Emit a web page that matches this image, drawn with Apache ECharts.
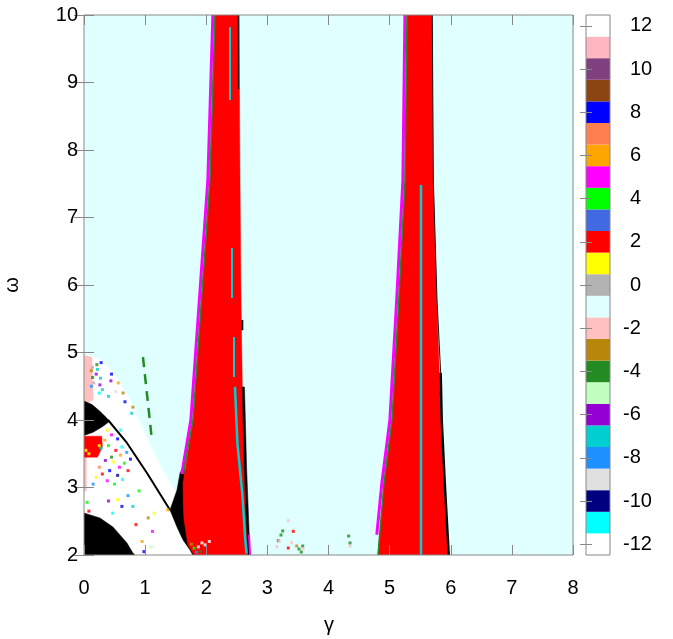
<!DOCTYPE html>
<html><head><meta charset="utf-8">
<script src="https://cdn.jsdelivr.net/npm/echarts@6/dist/echarts.min.js"></script>
<style>html,body{margin:0;padding:0;background:#fff}#c{width:673px;height:639px}</style>
</head><body><div id="c"></div><script>
// ---- axes / colorbar ----
const gammaTicks = [0,1,2,3,4,5,6,7,8];
const omegaTicks = [2,3,4,5,6,7,8,9,10];
const cbLevels = [-12,-11,-10,-9,-8,-7,-6,-5,-4,-3,-2,-1,0,1,2,3,4,5,6,7,8,9,10,11,12];
const cbColors = ['#ffffff','#00ffff','#000080','#e0e0e0','#1e90ff','#00ced1','#9400d3','#c0ffc0','#228b22','#b8860b','#ffc0c0','#e0ffff',
                  '#b3b3b3','#ffff00','#ff0000','#4169e1','#00ff00','#ff00ff','#ffa500','#ff7f50','#0000ff','#8b4513','#804080','#ffb6c1','#ffffff'];
const cbTickLabels = [-12,-10,-8,-6,-4,-2,0,2,4,6,8,10,12];
const BLACK = 99; // cells outside the colour range, drawn black

// ---- regions (gamma, omega) ----
const background = [[0,2],[8,2],[8,10],[0,10]];
const whiteZone = [[0,2],[0,4.97],[0.262,4.889],[0.474,4.711],[0.753,4.296],[0.949,3.881],[1.162,3.481],[1.407,3.067],[1.58,2.80],[1.62,2.6],[1.75,2.0]];
const pinkPatch = [[0,4.96],[0.13,4.93],[0.15,4.3],[0.05,4.25],[0,4.25]];
const pinkStrip = [[0,3.45],[0.04,3.45],[0.04,2.95],[0,2.95]];
const redBlob = [[0,3.76],[0.29,3.76],[0.30,3.60],[0.22,3.45],[0,3.45]];
const blackBlobTop = [[0,4.28],[0.13,4.23],[0.26,4.13],[0.36,4.04],[0.42,3.98],[0.30,3.90],[0.15,3.82],[0,3.77]];
const blackBlobBottom = [[0,2],[0,2.622],[0.262,2.548],[0.474,2.415],[0.703,2.178],[0.80,2.03],[0.834,2.0]];
const band1Wedge = [[1.64,3.33],[1.571,3.215],[1.521,2.963],[1.407,2.667],[1.521,2.415],[1.62,2.222],[1.734,2.074],[1.78,2.0],[1.85,2.0],[1.72,2.2],[1.66,2.6],[1.65,3.0]];
const band1Red = [[2.143,10],[2.061,7.556],[1.922,5.778],[1.783,4.0],[1.62,3.067],[1.625,2.7],[1.636,2.52],[1.70,2.148],[1.80,2.0],
                  [2.683,2.0],[2.65,2.6],[2.62,3.3],[2.60,4.0],[2.59,4.49],[2.569,5.778],[2.552,7.556],[2.536,10]];
const band1EdgeBlack = [[2.59,4.49],[2.625,4.49],[2.64,4.0],[2.66,3.3],[2.69,2.6],[2.716,2.0],[2.683,2.0],[2.65,2.6],[2.62,3.3],[2.60,4.0]];
const band2Red = [[5.284,10],[5.252,7.556],[5.15,5.778],[5.039,4.0],[4.908,3.067],[4.81,2.0],
                  [5.955,2.0],[5.890,3.067],[5.840,4.0],[5.77,5.778],[5.710,7.556],[5.693,10]];
const regionList = [
  [background,-1],[whiteZone,12],[pinkPatch,-2],[pinkStrip,-2],[redBlob,2],[blackBlobTop,BLACK],[blackBlobBottom,BLACK],
  [band1Wedge,BLACK],[band1Red,2],[band1EdgeBlack,BLACK],[band2Red,2]
];

// ---- thin line features ----
const diagBlack = [[0.393,4.0],[0.703,3.66],[1.03,3.215],[1.407,2.667]];
const greenDash = [[0.965,4.93],[1.112,3.70]];
const band1Magenta = [[2.108,10],[2.026,7.556],[1.887,5.778],[1.748,4.0],[1.60,3.2]];
const band1Green = [[2.143,10],[2.061,7.556],[1.922,5.778],[1.783,4.0],[1.625,3.2]];
const band1CyanA = [[2.389,9.82],[2.389,8.74]];
const band1CyanB = [[2.421,6.548],[2.421,5.807]];
const band1CyanC = [[2.454,5.23],[2.454,4.637]];
const band1CyanD = [[2.47,4.49],[2.51,3.65],[2.59,2.9],[2.64,2.2],[2.66,2.02]];
const band1DarkTop = [[2.527,10],[2.527,8.9]];
const band1DarkMid = [[2.59,5.48],[2.59,5.33]];
const band1MagentaLow = [[2.70,2.3],[2.716,2.0]];
const band2Magenta = [[5.25,10],[5.217,7.556],[5.115,5.778],[5.004,4.0],[4.873,3.067],[4.79,2.3]];
const band2Green = [[5.284,10],[5.252,7.556],[5.15,5.778],[5.039,4.0],[4.908,3.067],[4.81,2.0]];
const band2BlackUpper = [[5.698,10],[5.715,7.556],[5.775,5.778],[5.835,4.7]];
const band2BlackLower = [[5.835,4.7],[5.852,4.0],[5.902,3.067],[5.967,2.0]];
const band2Cyan = [[5.513,7.48],[5.513,2.0]];

// ---- isolated points [gamma, omega, value] ----
const dots = [
 [0.22,4.75,-7],[0.27,4.62,-7],[0.30,4.45,-7],[0.25,4.40,-11],[0.40,4.35,-7],[0.28,4.85,8],[0.45,4.68,8],[0.12,4.50,-8],
 [0.20,4.68,-6],[0.26,4.52,-6],[0.44,4.58,-6],[0.14,4.78,0],[0.16,4.55,0],[0.14,4.63,-4],[0.21,4.82,-4],[0.12,4.73,-3],
 [0.80,4.19,-3],[0.67,4.27,8],[0.78,4.10,-7],[0.64,4.40,-3],[0.56,4.55,6],[0.52,4.42,-9],
 [0.38,3.85,1],[0.45,3.78,5],[0.55,3.72,8],[0.62,3.60,-11],[0.40,3.62,4],[0.52,3.55,2],[0.60,3.48,6],[0.70,3.52,-8],
 [0.35,3.40,-6],[0.48,3.38,1],[0.58,3.30,5],[0.66,3.36,4],[0.42,3.25,8],[0.30,3.20,2],[0.55,3.18,-10],[0.63,3.12,-11],
 [0.38,3.10,5],[0.50,3.05,4],[0.25,3.30,7],[0.72,3.25,2],[0.45,3.45,-4],[0.34,3.70,6],[0.28,3.58,-7],[0.60,3.85,-11],
 [0.20,3.15,1],[0.76,3.42,8],[0.15,3.05,-8],
 [0.05,2.78,4],[0.08,2.65,2],[0.47,2.62,-11],[0.55,2.82,1],[0.62,2.72,8],[0.90,2.95,4],[0.85,2.45,2],[1.05,2.55,-3],
 [1.12,2.35,5],[0.95,2.20,6],[1.10,2.12,-5],[0.98,2.05,8],[1.15,2.62,1],[0.80,2.72,-7],[1.37,2.67,6],[0.72,2.88,-8],[0.40,2.80,-6],
 [0.03,3.55,1],[0.08,3.50,1],[0.25,3.62,1],
 [1.87,2.12,12],[1.93,2.18,12],[1.98,2.15,12],[2.05,2.20,12],[1.80,2.10,4],[1.84,2.04,-8],[1.76,2.16,-3],[1.90,2.05,-4],
 [3.342,2.508,-2],[3.424,2.351,2],[3.251,2.356,-4],[3.223,2.296,-4],[3.179,2.212,-4],[3.195,2.207,-2],[3.398,2.182,-2],
 [3.153,2.123,-2],[3.480,2.133,-3],[3.578,2.133,-4],[3.342,2.104,2],[3.517,2.089,-4],[3.555,2.044,-4],[3.583,2.089,-2],
 [4.330,2.281,-4],[4.352,2.178,-4],[4.352,2.133,-2]
];

function colorOf(v){ return v === BLACK ? '#000000' : cbColors[cbLevels.indexOf(v)]; }

const FONT = 'Liberation Sans';
const BORDER = '#888888';
const chart = echarts.init(document.getElementById('c'), null, {renderer:'canvas'});

function lineSeries(pts, color, width, dash){
  return {type:'line', xAxisIndex:0, yAxisIndex:0, data:pts, symbol:'none', silent:true, z:3,
          lineStyle:{color:color, width:width, type: dash || 'solid', cap:'butt'}};
}

const tickCommon = {show:true, inside:true, length:10, lineStyle:{color:BORDER, width:1}};

const option = {
  animation:false,
  backgroundColor:'#ffffff',
  grid:[
    {left:84, right:100, top:15, bottom:84, show:true, borderColor:BORDER, borderWidth:1, backgroundColor:'transparent', z:10},
    {left:586, right:63, top:15, bottom:84, show:true, borderColor:BORDER, borderWidth:1, backgroundColor:'transparent', z:10}
  ],
  xAxis:[
    {gridIndex:0, type:'value', min:gammaTicks[0], max:gammaTicks[gammaTicks.length-1], interval:1, position:'bottom',
     axisLine:{show:false}, splitLine:{show:false}, axisTick:tickCommon,
     axisLabel:{margin:23, fontSize:20, fontFamily:FONT, color:'#000'}, z:10},
    {gridIndex:0, type:'value', min:gammaTicks[0], max:gammaTicks[gammaTicks.length-1], interval:1, position:'top',
     axisLine:{show:false}, splitLine:{show:false}, axisTick:tickCommon, axisLabel:{show:false}, z:10},
    {gridIndex:1, type:'value', min:0, max:1, show:false}
  ],
  yAxis:[
    {gridIndex:0, type:'value', min:omegaTicks[0], max:omegaTicks[omegaTicks.length-1], interval:1, position:'left',
     axisLine:{show:false}, splitLine:{show:false}, axisTick:tickCommon,
     axisLabel:{margin:6, fontSize:20, fontFamily:FONT, color:'#000'}, z:10},
    {gridIndex:0, type:'value', min:omegaTicks[0], max:omegaTicks[omegaTicks.length-1], interval:1, position:'right',
     axisLine:{show:false}, splitLine:{show:false}, axisTick:tickCommon, axisLabel:{show:false}, z:10},
    {gridIndex:1, type:'value', min:-12.5, max:12.5, position:'right',
     axisLine:{show:false}, splitLine:{show:false},
     axisTick:{show:true, inside:true, length:6, customValues:cbTickLabels, lineStyle:{color:BORDER}},
     axisLabel:{show:true, customValues:cbTickLabels, margin:13, fontSize:20, fontFamily:FONT, color:'#000',
       formatter:function(v){ return v < 0 ? '{n|' + v + '}' : '{p|' + v + '}'; },
       rich:{n:{fontSize:20, fontFamily:FONT, color:'#000'}, p:{fontSize:20, fontFamily:FONT, color:'#000', padding:[0,0,0,7]}}}, z:10},
    {gridIndex:1, type:'value', min:-12.5, max:12.5, position:'left',
     axisLine:{show:false}, splitLine:{show:false},
     axisTick:{show:true, inside:true, length:6, customValues:cbTickLabels, lineStyle:{color:BORDER}},
     axisLabel:{show:false}, z:10}
  ],
  graphic:[
    {type:'text', x:329, y:625, style:{text:'γ', font:'20px "Liberation Sans"', fill:'#000', textAlign:'center', textVerticalAlign:'middle'}},
    {type:'text', x:12, y:285, rotation:Math.PI/2, style:{text:'ω', font:'20px "Liberation Sans"', fill:'#000', textAlign:'center', textVerticalAlign:'middle'}}
  ],
  series:[
    {type:'custom', xAxisIndex:0, yAxisIndex:0, clip:true, silent:true, z:1,
     data: regionList.map((r,i)=>[r[0][0][0], r[0][0][1], i]),
     encode:{x:0, y:1},
     renderItem:function(params, api){
       const r = regionList[params.dataIndex];
       return {type:'polygon', shape:{points:r[0].map(p=>api.coord(p))}, style:{fill:colorOf(r[1]), stroke:colorOf(r[1]), lineWidth:0.5}};
     }},
    lineSeries(diagBlack,'#000000',2),
    lineSeries(greenDash,'#228b22',2.5,[10,7]),
    lineSeries(band1Magenta,'#ff00ff',3),
    lineSeries(band1Green,'#228b22',1.5),
    lineSeries(band1CyanA,'#00ced1',2),
    lineSeries(band1CyanB,'#00ced1',2),
    lineSeries(band1CyanC,'#00ced1',2),
    lineSeries(band1CyanD,'#00ced1',2.5),
    lineSeries(band1DarkTop,'#222222',1.5),
    lineSeries(band1DarkMid,'#000000',2),
    lineSeries(band1MagentaLow,'#ff00ff',2),
    lineSeries(band2Magenta,'#ff00ff',3),
    lineSeries(band2Green,'#228b22',1.5),
    lineSeries(band2BlackUpper,'#111111',1),
    lineSeries(band2BlackLower,'#000000',2.5),
    lineSeries(band2Cyan,'#00ced1',2.5),
    {type:'scatter', xAxisIndex:0, yAxisIndex:0, data:dots, symbol:'rect', symbolSize:3, silent:true, z:4,
     itemStyle:{color:function(p){ return colorOf(p.value[2]); }}},
    {type:'custom', xAxisIndex:2, yAxisIndex:2, silent:true, z:1,
     data: cbLevels.map(v=>[0.5, v]),
     encode:{x:0, y:1},
     renderItem:function(params, api){
       const v = cbLevels[params.dataIndex];
       const p0 = api.coord([0, v+0.5]); const p1 = api.coord([1, v-0.5]);
       return {type:'rect', shape:{x:p0[0], y:p0[1], width:p1[0]-p0[0], height:p1[1]-p0[1]}, style:{fill:colorOf(v)}};
     }}
  ]
};
chart.setOption(option);
</script></body></html>
